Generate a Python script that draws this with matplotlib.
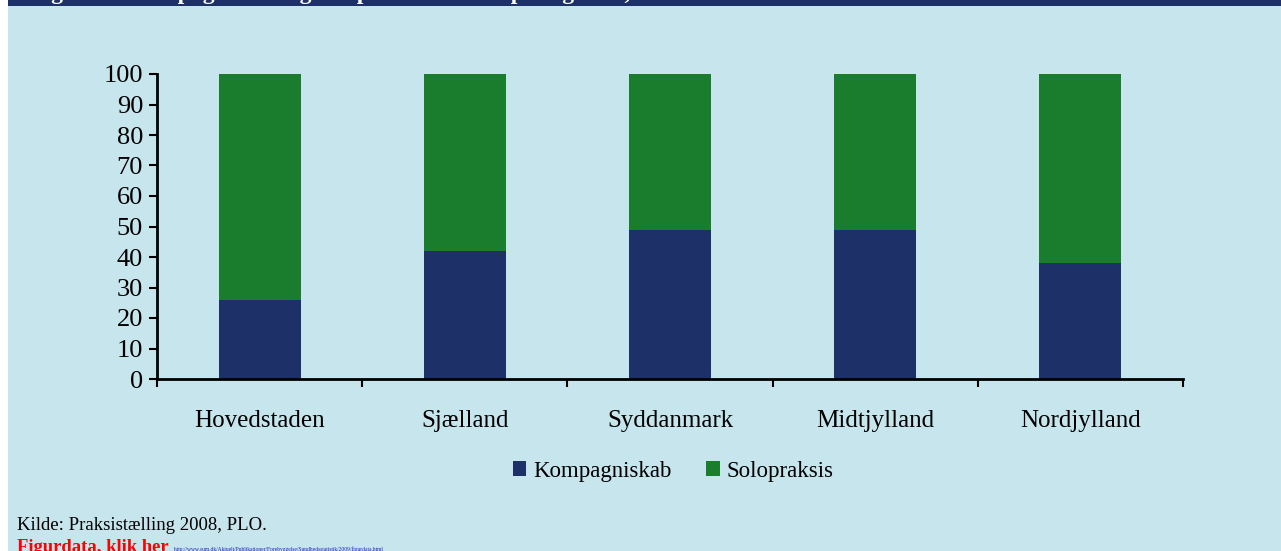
import numpy as np
import matplotlib.pyplot as plt
from matplotlib.patches import Rectangle

plt.rcParams['font.family'] = ['Liberation Serif', 'DejaVu Serif']

regioner = ["Hovedstaden", "Sjælland", "Syddanmark", "Midtjylland", "Nordjylland"]
kompagniskab = [26, 42, 49, 49, 38]
solopraksis = [74, 58, 51, 51, 62]
yticks = list(range(0, 101, 10))

bg = "#C7E5ED"
navy = "#1E3068"
green = "#1A7D2D"

fig = plt.figure(figsize=(12.81, 5.51), dpi=100)
fig.patch.set_facecolor("white")

# baggrund og top-bjælke i en akse bagved
bgax = fig.add_axes([0, 0, 1, 1], zorder=-10)
bgax.set_xlim(0, 1281)
bgax.set_ylim(551, 0)
bgax.axis("off")
bgax.add_patch(Rectangle((8, 0), 1281, 551, facecolor=bg, edgecolor="none"))
bgax.add_patch(Rectangle((8, 0), 1281, 6, facecolor=navy, edgecolor="none"))
bgax.text(30, -1, "Figur 3.5 Kompagniskab og solopraksis fordelt på regioner, 2008", color="white",
          fontsize=17, fontweight="bold", va="baseline", ha="left")

ax = fig.add_axes([157 / 1281, 1 - 379 / 551, (1183 - 157) / 1281, (379 - 74) / 551])
ax.set_facecolor("none")

x = np.arange(len(regioner))
ax.bar(x, kompagniskab, width=0.4, color=navy, label="Kompagniskab")
ax.bar(x, solopraksis, width=0.4, bottom=kompagniskab, color=green, label="Solopraksis")

ax.set_xlim(-0.5, len(regioner) - 0.5)
ax.set_ylim(0, 100)
ax.set_yticks(yticks)
ax.tick_params(axis="y", labelsize=19, width=1.5, length=6, pad=4, direction="out")
ax.set_xticks(x)
ax.set_xticklabels(regioner, fontsize=18)
ax.tick_params(axis="x", length=0, pad=22)
ax.set_xticks(np.arange(len(regioner) + 1) - 0.5, minor=True)
ax.tick_params(axis="x", which="minor", length=6, width=1.5, direction="out")

for s in ["top", "right"]:
    ax.spines[s].set_visible(False)
for s in ["left", "bottom"]:
    ax.spines[s].set_linewidth(2)

leg = ax.legend(loc="upper center", bbox_to_anchor=(0.503, -0.2), ncol=2, frameon=False,
                fontsize=16.5, handlelength=0.6, handleheight=0.6, handletextpad=0.3,
                columnspacing=1.5)

bgax.text(17, 525, "Kilde: Praksistælling 2008, PLO.", fontsize=13.5, va="center", ha="left")
bgax.text(17, 547, "Figurdata, klik her", fontsize=13.4, fontweight="bold",
          color="red", va="center", ha="left")
bgax.text(174, 549,
          "http://www.sum.dk/Aktuelt/Publikationer/Forebyggelse/Sundhedsstatistik/2009/figurdata.html",
          fontsize=4, color="#2020C0", va="center", ha="left")

fig.savefig("out.png", dpi=100, facecolor=fig.get_facecolor())
